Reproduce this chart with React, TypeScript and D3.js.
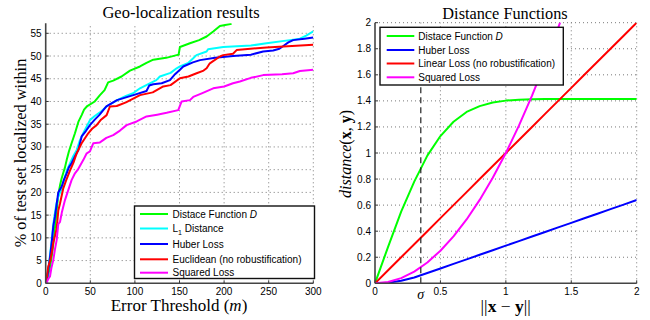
import React, { useEffect, useRef } from 'react';
import * as d3 from 'd3';

type Pt = [number, number];

// left panel: % of test set localized within error threshold (m)
const geoNames = ['Distace Function D', 'L1 Distance', 'Huber Loss', 'Euclidean (no robustification)', 'Squared Loss'];
const geoColors = ['#00ff00', '#00ffff', '#0000ff', '#ff0000', '#ff00ff'];

const geoDistace: Pt[] = [[0, 0], [1, 0.3], [3, 2], [4.8, 3.5], [6.7, 5.9], [8.5, 8.5], [10.5, 12.5], [12.3, 16.1], [14.1, 19.5], [16, 21.5], [17.9, 23.1], [20, 24.5], [21.6, 25.5], [23.5, 27.1], [26, 29], [29, 30.8], [32.8, 33], [36.6, 35.5], [40.3, 37], [43, 38.2], [46.6, 39], [55, 40], [60.8, 41.4], [66, 42.5], [70, 44.2], [75.7, 44.6], [85, 45.5], [94.5, 46.8], [105.7, 47.7], [113, 48.5], [120.6, 49.2], [135, 49.6], [146.8, 50.2], [149, 50.3], [150.5, 52], [161.7, 52.8], [172, 53.5], [180.4, 54.3], [187.8, 55.4], [195.3, 56.6], [208.4, 57.1]];
const geoL1: Pt[] = [[0, 0], [1, 0.5], [3, 3], [5, 6.5], [7, 10], [8.5, 13], [10.4, 15.5], [12, 17.5], [14, 19], [17.9, 20.8], [21.6, 23.5], [24, 25], [27.2, 26.4], [31, 28], [34.7, 29.3], [38.4, 31.5], [42.1, 33], [46, 34.5], [49.6, 35.9], [55, 36.8], [60.8, 37.6], [68.3, 38.9], [80, 40.3], [90, 41.2], [98, 41.8], [105.7, 42.9], [115, 43.8], [124, 44.7], [128, 45.5], [140, 46.3], [146.8, 47.3], [150.5, 47.7], [160, 48.5], [165.4, 49.5], [169, 50.2], [180.4, 51], [182, 51.5], [199, 52], [230, 52.3], [247.6, 52.8], [273.7, 53.5], [285, 53.8], [292, 54.5], [300, 55.4]];
const geoHuber: Pt[] = [[0, 0], [1, 0.5], [3, 3], [5, 6], [7, 9.5], [8.5, 12.5], [10.4, 14.7], [12, 17], [14.1, 20], [17.9, 21.3], [20.5, 22.8], [23.5, 24.2], [26, 25.5], [29, 26.4], [33, 28], [36.6, 29.3], [40.3, 32.3], [45, 33.5], [49.6, 34.8], [55, 36], [60, 37], [68, 38.9], [80, 40.3], [100, 41.5], [113, 42.3], [116, 43.5], [120.6, 43.8], [130, 44], [139.3, 44.7], [145, 46], [150.5, 47], [154.2, 47.7], [165, 48.6], [173, 49.1], [190, 49.6], [210, 50], [230, 50.3], [243.8, 51], [255, 51.2], [262, 51.6], [266.4, 52.2], [272, 53], [277.4, 53.5], [290, 53.8], [300, 54.1]];
const geoEuclid: Pt[] = [[0, 0], [1, 1], [2.9, 3.7], [5, 5], [7, 7], [8.5, 9], [10.5, 10.5], [12.3, 12], [14.1, 16], [16, 17.5], [19.7, 20.9], [23, 22.7], [27.2, 24.8], [31, 26.5], [34.7, 28.6], [40.3, 30.8], [47.7, 33], [52, 34], [57.1, 34.8], [62, 36], [68.3, 37], [72, 38.9], [79.6, 39], [90, 39.8], [105.7, 41.4], [120, 42], [131.8, 43.3], [140, 43.6], [150.5, 45.1], [160, 45.5], [169.2, 46.2], [177, 46.8], [180.4, 47.3], [184, 48.4], [195.3, 49.9], [199, 50.2], [210, 50.5], [214, 51.3], [247.6, 51.9], [300, 52.5]];
const geoSquared: Pt[] = [[0, 0], [1, 0], [1.8, 0.5], [3, 1], [4.8, 1.5], [6.5, 3.5], [8.5, 5.1], [10.4, 7.5], [12.3, 9.5], [14.1, 13], [16, 13.5], [18, 15.5], [21.6, 18.3], [25.3, 20.5], [29, 22.7], [32.8, 24.2], [36, 25], [42.1, 27.1], [46, 28.6], [49.6, 29], [53.3, 30.8], [60.8, 31], [68, 32], [75.7, 32.6], [83.3, 33.6], [90.7, 34.8], [102, 35.6], [113, 36.7], [125, 37.1], [135.6, 37.5], [148.6, 38.1], [152.4, 40], [161.7, 40.3], [165.4, 41], [175, 41.8], [187.8, 42.9], [200, 43.3], [210, 44], [217.7, 44.4], [230, 45.2], [243.8, 45.8], [265, 46], [277.4, 46.2], [285, 46.7], [300, 47]];
const geoSeries = [geoDistace, geoL1, geoHuber, geoEuclid, geoSquared];

const geoXTicks = [0, 50, 100, 150, 200, 250, 300];
const geoYTicks = [0, 5, 10, 15, 20, 25, 30, 35, 40, 45, 50, 55];

// right panel: distance functions sampled over ||x - y||
const distNames = ['Distace Function D', 'Huber Loss', 'Linear Loss (no robustification)', 'Squared Loss'];
const distColors = ['#00ff00', '#0000ff', '#ff0000', '#ff00ff'];
const distX = [0, 0.1, 0.2, 0.3, 0.4, 0.5, 0.6, 0.7, 0.8, 0.9, 1, 1.1, 1.2, 1.3, 1.4, 1.5, 1.6, 1.7, 1.8, 1.9, 2];
const distD = [0, 0.28, 0.55, 0.78, 0.98, 1.13, 1.24, 1.315, 1.36, 1.388, 1.402, 1.409, 1.412, 1.414, 1.414, 1.414, 1.414, 1.414, 1.414, 1.414, 1.414];
const distHuber = [0, 0.005, 0.02, 0.045, 0.079, 0.114, 0.149, 0.184, 0.219, 0.254, 0.289, 0.324, 0.359, 0.394, 0.429, 0.464, 0.499, 0.534, 0.569, 0.604, 0.639];
const distLinear = [0, 0.1, 0.2, 0.3, 0.4, 0.5, 0.6, 0.7, 0.8, 0.9, 1, 1.1, 1.2, 1.3, 1.4, 1.5, 1.6, 1.7, 1.8, 1.9, 2];
const distSquared = [0, 0.01, 0.04, 0.09, 0.16, 0.25, 0.36, 0.49, 0.64, 0.81, 1, 1.21, 1.44, 1.69, 1.96, 2.25, 2.56, 2.89, 3.24, 3.61, 4];
const distSeries = [distD, distHuber, distLinear, distSquared];
const sigma = 0.35;

const distXTicks = [0, 0.5, 1, 1.5, 2];
const distYTicks = [0, 0.2, 0.4, 0.6, 0.8, 1, 1.2, 1.4, 1.6, 1.8, 2];

const serif = '"Liberation Serif", "Times New Roman", serif';
const sans = '"Liberation Sans", Arial, sans-serif';

function drawFrame(g: any, x: any, y: any, xTicks: number[], yTicks: number[], fmt: (d: number) => string) {
  const [xa, xb] = x.range();
  const [ya, yb] = y.range();

  // dotted grid
  g.append('g').selectAll('line').data(xTicks.slice(1)).enter().append('line')
    .attr('x1', (d: number) => x(d)).attr('x2', (d: number) => x(d))
    .attr('y1', ya).attr('y2', yb)
    .attr('stroke', '#555').attr('stroke-width', 0.8).attr('stroke-dasharray', '1,3');
  g.append('g').selectAll('line').data(yTicks.slice(1)).enter().append('line')
    .attr('x1', xa).attr('x2', xb)
    .attr('y1', (d: number) => y(d)).attr('y2', (d: number) => y(d))
    .attr('stroke', '#555').attr('stroke-width', 0.8).attr('stroke-dasharray', '1,3');

  // inward ticks
  g.append('g').selectAll('line').data(xTicks).enter().append('line')
    .attr('x1', (d: number) => x(d)).attr('x2', (d: number) => x(d))
    .attr('y1', ya).attr('y2', ya - 3).attr('stroke', '#333');
  g.append('g').selectAll('line').data(yTicks).enter().append('line')
    .attr('x1', xa).attr('x2', xa + 3)
    .attr('y1', (d: number) => y(d)).attr('y2', (d: number) => y(d)).attr('stroke', '#333');

  // tick labels
  g.append('g').selectAll('text').data(xTicks).enter().append('text')
    .attr('x', (d: number) => x(d)).attr('y', ya + 11.5)
    .attr('text-anchor', 'middle').style('font-family', sans).style('font-size', '10px')
    .text((d: number) => fmt(d));
  g.append('g').selectAll('text').data(yTicks).enter().append('text')
    .attr('x', xa - 4).attr('y', (d: number) => y(d)).attr('dy', '0.35em')
    .attr('text-anchor', 'end').style('font-family', sans).style('font-size', '10px')
    .text((d: number) => fmt(d));
}

function drawAxes(g: any, x: any, y: any) {
  const [xa, xb] = x.range();
  const [ya, yb] = y.range();
  g.append('line').attr('x1', xa).attr('x2', xa).attr('y1', ya).attr('y2', yb)
    .attr('stroke', '#444').attr('stroke-width', 1.6);
  g.append('line').attr('x1', xa).attr('x2', xb).attr('y1', ya).attr('y2', ya)
    .attr('stroke', '#444').attr('stroke-width', 1.6);
}

function legendLabel(t: any, name: string) {
  if (name === 'Distace Function D') {
    t.append('tspan').text('Distace Function ');
    t.append('tspan').style('font-style', 'italic').text('D');
  } else if (name === 'L1 Distance') {
    t.append('tspan').text('L');
    t.append('tspan').attr('dy', 3).style('font-size', '7px').text('1');
    t.append('tspan').attr('dy', -3).text(' Distance');
  } else {
    t.text(name);
  }
}

const App: React.FC = () => {
  const svgRef = useRef<SVGSVGElement>(null);

  useEffect(() => {
    if (!svgRef.current) return;
    const svg = d3.select(svgRef.current);
    svg.selectAll('*').remove();

    const defs = svg.append('defs');

    // ---------- left: geo-localization ----------
    const xL = d3.scaleLinear().domain([0, 300]).range([45.7, 313.3]);
    const yL = d3.scaleLinear().domain([0, 57.2]).range([283.3, 23.3]);
    const gL = svg.append('g');
    drawFrame(gL, xL, yL, geoXTicks, geoYTicks, d => String(d));

    defs.append('clipPath').attr('id', 'clipL').append('rect')
      .attr('x', 45.7).attr('y', 23.3).attr('width', 267.6).attr('height', 260);

    const lineL = d3.line<Pt>().x(d => xL(d[0])).y(d => yL(d[1]));
    gL.append('g').attr('clip-path', 'url(#clipL)')
      .selectAll('path').data(geoSeries).enter().append('path')
      .attr('d', d => lineL(d))
      .attr('fill', 'none')
      .attr('stroke', (_d, i) => geoColors[i])
      .attr('stroke-width', 2)
      .attr('stroke-linejoin', 'round');

    drawAxes(gL, xL, yL);

    gL.append('text').attr('x', 181).attr('y', 18).attr('text-anchor', 'middle')
      .style('font-family', serif).style('font-size', '16.5px').text('Geo-localization results');
    const xlab = gL.append('text').attr('x', 179).attr('y', 311).attr('text-anchor', 'middle')
      .style('font-family', serif).style('font-size', '17px');
    xlab.append('tspan').text('Error Threshold (');
    xlab.append('tspan').style('font-style', 'italic').text('m');
    xlab.append('tspan').text(')');
    gL.append('text').attr('transform', 'translate(26,153) rotate(-90)').attr('text-anchor', 'middle')
      .style('font-family', serif).style('font-size', '16.3px').text('% of test set localized within');

    // legend
    const legL = gL.append('g');
    legL.append('rect').attr('x', 134.5).attr('y', 206).attr('width', 180).attr('height', 72.5)
      .attr('fill', '#fff').attr('stroke', '#111').attr('stroke-width', 1.4);
    const rowsL = [214, 228.5, 244, 259.3, 272.7];
    geoNames.forEach((name, i) => {
      legL.append('line').attr('x1', 140).attr('x2', 168).attr('y1', rowsL[i]).attr('y2', rowsL[i])
        .attr('stroke', geoColors[i]).attr('stroke-width', 2);
      const t = legL.append('text').attr('x', 172.5).attr('y', rowsL[i]).attr('dy', '0.35em')
        .style('font-family', sans).style('font-size', '10px');
      legendLabel(t, name);
    });

    // ---------- right: distance functions ----------
    const xR = d3.scaleLinear().domain([0, 2]).range([375, 636.7]);
    const yR = d3.scaleLinear().domain([0, 2]).range([283.3, 22.7]);
    const gR = svg.append('g');
    drawFrame(gR, xR, yR, distXTicks, distYTicks, d => d3.format('~g')(d));

    defs.append('clipPath').attr('id', 'clipR').append('rect')
      .attr('x', 375).attr('y', 22.7).attr('width', 261.7).attr('height', 260.6);

    const lineR = d3.line<number>().x((_d, i) => xR(distX[i])).y(d => yR(d));
    gR.append('g').attr('clip-path', 'url(#clipR)')
      .selectAll('path').data(distSeries).enter().append('path')
      .attr('d', d => lineR(d))
      .attr('fill', 'none')
      .attr('stroke', (_d, i) => distColors[i])
      .attr('stroke-width', 2)
      .attr('stroke-linejoin', 'round');

    gR.append('line').attr('x1', xR(sigma)).attr('x2', xR(sigma)).attr('y1', yR(0)).attr('y2', yR(2))
      .attr('stroke', '#222').attr('stroke-width', 1.2).attr('stroke-dasharray', '6,4');

    drawAxes(gR, xR, yR);

    gR.append('text').attr('x', xR(sigma)).attr('y', 298.5).attr('text-anchor', 'middle')
      .style('font-family', serif).style('font-style', 'italic').style('font-size', '14px').text('σ');

    gR.append('text').attr('x', 505).attr('y', 18.5).attr('text-anchor', 'middle')
      .style('font-family', serif).style('font-size', '16.3px').text('Distance Functions');

    const xlabR = gR.append('text').attr('x', 505.7).attr('y', 312).attr('text-anchor', 'middle')
      .style('font-family', serif).style('font-size', '17.5px');
    xlabR.append('tspan').text('||');
    xlabR.append('tspan').style('font-weight', 'bold').text('x');
    xlabR.append('tspan').text(' − ');
    xlabR.append('tspan').style('font-weight', 'bold').text('y');
    xlabR.append('tspan').text('||');

    const ylabR = gR.append('text').attr('transform', 'translate(351,154) rotate(-90)').attr('text-anchor', 'middle')
      .style('font-family', serif).style('font-size', '16px');
    ylabR.append('tspan').style('font-style', 'italic').text('distance');
    ylabR.append('tspan').text('(');
    ylabR.append('tspan').style('font-weight', 'bold').text('x');
    ylabR.append('tspan').text(', ');
    ylabR.append('tspan').style('font-weight', 'bold').text('y');
    ylabR.append('tspan').text(')');

    const legR = gR.append('g');
    legR.append('rect').attr('x', 380).attr('y', 27.3).attr('width', 183.3).attr('height', 57.7)
      .attr('fill', '#fff').attr('stroke', '#111').attr('stroke-width', 1.4);
    const rowsR = [36, 50, 63.5, 77.3];
    distNames.forEach((name, i) => {
      legR.append('line').attr('x1', 386.7).attr('x2', 414.3).attr('y1', rowsR[i]).attr('y2', rowsR[i])
        .attr('stroke', distColors[i]).attr('stroke-width', 2);
      const t = legR.append('text').attr('x', 418.3).attr('y', rowsR[i]).attr('dy', '0.35em')
        .style('font-family', sans).style('font-size', '10px');
      legendLabel(t, name);
    });
  }, []);

  return (
    <svg ref={svgRef} width={650} height={320}
      style={{ position: 'absolute', left: 0, top: 0, background: '#fff' }} />
  );
};

export default App;
